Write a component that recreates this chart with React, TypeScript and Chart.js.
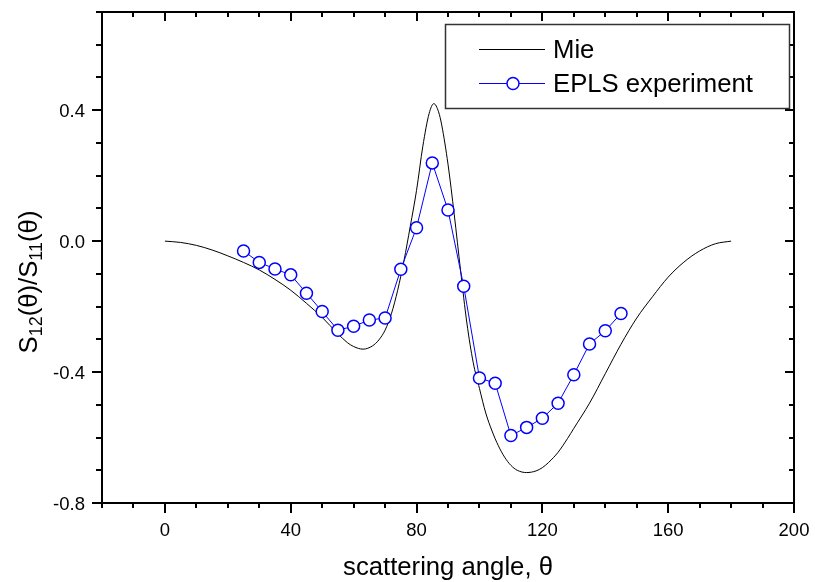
import React, { useEffect, useRef } from "react";
import { Chart, registerables } from "chart.js";

Chart.register(...registerables);

// ---- data ----
const mieAngles = [0, 5, 10, 15, 20, 25, 30, 35, 40, 45, 50, 55, 58, 60, 63, 66, 68, 70, 72, 74, 76, 78, 80, 82, 84, 85.5, 87, 88, 90, 92, 94, 96, 98, 100, 102, 104, 106, 108, 110, 112, 115, 118, 120, 122, 125, 128, 130, 135, 140, 145, 150, 155, 160, 165, 170, 175, 180];
const mieValues = [0, -0.004, -0.013, -0.027, -0.045, -0.065, -0.088, -0.117, -0.15, -0.19, -0.233, -0.283, -0.31, -0.322, -0.33, -0.32, -0.302, -0.272, -0.222, -0.15, -0.06, 0.045, 0.155, 0.29, 0.39, 0.42, 0.395, 0.355, 0.235, 0.08, -0.09, -0.25, -0.37, -0.45, -0.525, -0.58, -0.625, -0.66, -0.685, -0.7, -0.707, -0.702, -0.692, -0.676, -0.645, -0.603, -0.572, -0.495, -0.405, -0.315, -0.235, -0.17, -0.11, -0.064, -0.03, -0.008, 0];

const eplsAngles = [25, 30, 35, 40, 45, 50, 55, 60, 65, 70, 75, 80, 85, 90, 95, 100, 105, 110, 115, 120, 125, 130, 135, 140, 145];
const eplsValues = [-0.03, -0.065, -0.085, -0.103, -0.159, -0.215, -0.272, -0.26, -0.241, -0.235, -0.086, 0.041, 0.239, 0.095, -0.138, -0.418, -0.434, -0.594, -0.569, -0.541, -0.495, -0.408, -0.314, -0.274, -0.221];

const xTickValues = [0, 40, 80, 120, 160, 200];
const yTickValues = [-0.8, -0.4, 0, 0.4];
const xTitle = "scattering angle, θ";
const yTitleParts = [
  { t: "S", sub: false },
  { t: "12", sub: true },
  { t: "(θ)/S", sub: false },
  { t: "11", sub: true },
  { t: "(θ)", sub: false },
];
const legendLabels = ["Mie", "EPLS experiment"];

const FONT = "'Liberation Sans', Arial, Helvetica, sans-serif";
const BLUE = "#0000ff";
const BIG = 25.7;
const SUB = 18;

const decorPlugin = {
  id: "decor",
  afterDraw(chart: any) {
    const ctx = chart.ctx;
    const { left, right, top, bottom } = chart.chartArea;
    const xs = chart.scales.x;
    const ys = chart.scales.y;
    ctx.save();
    ctx.strokeStyle = "#000";
    ctx.lineWidth = 2;
    ctx.lineCap = "butt";
    // frame
    ctx.beginPath();
    ctx.rect(left, top, right - left, bottom - top);
    ctx.stroke();
    // x ticks
    ctx.beginPath();
    for (let v = -20; v <= 200; v += 10) {
      const px = Math.round(xs.getPixelForValue(v));
      const major = v % 40 === 0;
      ctx.moveTo(px, bottom);
      ctx.lineTo(px, bottom + (major ? 10 : 5));
      ctx.moveTo(px, top);
      ctx.lineTo(px, top + (major ? 9 : 5));
    }
    // y ticks
    for (let i = -8; i <= 7; i++) {
      const py = Math.round(ys.getPixelForValue(i / 10));
      const major = i % 4 === 0;
      ctx.moveTo(left, py);
      ctx.lineTo(left - (major ? 10 : 6), py);
      ctx.moveTo(right, py);
      ctx.lineTo(right - (major ? 9 : 5), py);
    }
    ctx.stroke();

    // tick labels
    ctx.fillStyle = "#000";
    ctx.font = `18.5px ${FONT}`;
    ctx.textBaseline = "alphabetic";
    ctx.textAlign = "center";
    for (const v of xTickValues) {
      ctx.fillText(String(v), xs.getPixelForValue(v), 535.5);
    }
    ctx.textAlign = "right";
    for (const v of yTickValues) {
      ctx.fillText(v.toFixed(1), 85, ys.getPixelForValue(v) + 7);
    }

    // x title
    ctx.font = `${BIG}px ${FONT}`;
    ctx.textAlign = "center";
    ctx.fillText(xTitle, (left + right) / 2, 575);

    // y title (rotated, with subscripts)
    ctx.save();
    ctx.translate(36.5, 282);
    ctx.rotate(-Math.PI / 2);
    ctx.textAlign = "left";
    let total = 0;
    const widths: number[] = [];
    for (const p of yTitleParts) {
      ctx.font = p.sub ? `${SUB}px ${FONT}` : `${BIG}px ${FONT}`;
      const w = ctx.measureText(p.t).width;
      widths.push(w);
      total += w;
    }
    let x = -total / 2;
    yTitleParts.forEach((p, i) => {
      ctx.font = p.sub ? `${SUB}px ${FONT}` : `${BIG}px ${FONT}`;
      ctx.fillText(p.t, x, p.sub ? 5 : 0);
      x += widths[i];
    });
    ctx.restore();

    // legend
    ctx.lineWidth = 1.5;
    ctx.strokeStyle = "#333";
    ctx.strokeRect(445.5, 24.5, 344, 84);
    ctx.lineWidth = 1;
    ctx.strokeStyle = "#000";
    ctx.beginPath();
    ctx.moveTo(479, 49.5);
    ctx.lineTo(545, 49.5);
    ctx.stroke();
    ctx.strokeStyle = BLUE;
    ctx.beginPath();
    ctx.moveTo(479, 83.5);
    ctx.lineTo(545, 83.5);
    ctx.stroke();
    ctx.beginPath();
    ctx.arc(513, 83.5, 6, 0, Math.PI * 2);
    ctx.fillStyle = "#fff";
    ctx.fill();
    ctx.lineWidth = 1.5;
    ctx.stroke();
    ctx.fillStyle = "#000";
    ctx.font = `${BIG}px ${FONT}`;
    ctx.textAlign = "left";
    ctx.fillText(legendLabels[0], 553, 58);
    ctx.fillText(legendLabels[1], 553, 92);
    ctx.restore();
  },
};

export default function App() {
  const ref = useRef<HTMLCanvasElement | null>(null);
  useEffect(() => {
    if (!ref.current) return;
    Chart.defaults.font.family = FONT;
    const chart = new Chart(ref.current, {
      type: "line",
      data: {
        datasets: [
          {
            label: legendLabels[1],
            data: eplsAngles.map((a, i) => ({ x: a, y: eplsValues[i] })),
            borderColor: BLUE,
            borderWidth: 1,
            pointRadius: 6,
            pointBorderWidth: 1.5,
            pointBorderColor: BLUE,
            pointBackgroundColor: "#fff",
            pointStyle: "circle",
            tension: 0,
            order: 0,
          },
          {
            label: legendLabels[0],
            data: mieAngles.map((a, i) => ({ x: a, y: mieValues[i] })),
            borderColor: "#000",
            borderWidth: 1,
            pointRadius: 0,
            cubicInterpolationMode: "monotone",
            order: 1,
          },
        ],
      },
      options: {
        responsive: false,
        animation: false,
        devicePixelRatio: 1,
        layout: { padding: { left: 0, top: 12, right: 21, bottom: 0 } },
        plugins: { legend: { display: false }, tooltip: { enabled: false } },
        events: [],
        scales: {
          x: {
            type: "linear",
            min: -20,
            max: 200,
            afterFit: (s: any) => {
              s.height = 79;
            },
            grid: { display: false, drawTicks: false },
            border: { display: false },
            ticks: { display: false },
          },
          y: {
            type: "linear",
            min: -0.8,
            max: 0.7,
            afterFit: (s: any) => {
              s.width = 102;
            },
            grid: { display: false, drawTicks: false },
            border: { display: false },
            ticks: { display: false },
          },
        },
      },
      plugins: [decorPlugin],
    });
    return () => chart.destroy();
  }, []);
  return (
    <div style={{ position: "fixed", left: 0, top: 0, width: 815, height: 582, background: "#fff" }}>
      <canvas ref={ref} width={815} height={582} style={{ display: "block" }} />
    </div>
  );
}
